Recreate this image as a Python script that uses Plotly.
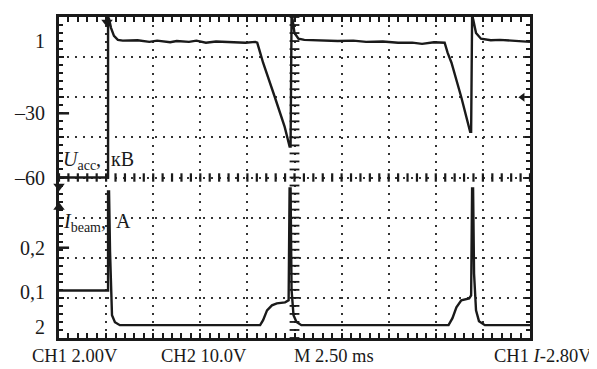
import plotly.graph_objects as go

# ---- data (time in ms, vertical position in screen divisions) ----
u_t = [0, 2.552, 2.604, 2.604, 2.656, 2.760, 2.917, 3.125, 3.385, 4.167, 4.8, 5.208, 5.9, 6.25, 6.9,
       7.292, 7.8, 8.333, 8.9, 9.375, 9.9, 10.417, 10.521, 10.677, 10.833, 11.458, 11.979, 12.240,
       12.292, 12.344, 12.396, 12.5, 12.708, 13.021, 13.6, 14.063, 14.8, 15.625, 16.3, 17.188, 18.0,
       18.75, 19.271, 19.9, 20.469, 20.625, 20.833, 21.354, 21.823, 21.875, 21.927, 21.979, 22.135,
       22.396, 22.917, 23.4, 23.958, 24.5, 25.0]
u_div = [4.0, 4.0, 4.0, 8.0, 7.95, 7.73, 7.53, 7.43, 7.41, 7.42, 7.38, 7.41, 7.37, 7.40, 7.38,
         7.41, 7.36, 7.39, 7.38, 7.38, 7.36, 7.38, 7.36, 7.11, 6.86, 6.0, 5.26, 4.77,
         4.77, 8.0, 7.95, 7.60, 7.46, 7.43, 7.42, 7.43, 7.40, 7.41, 7.38, 7.39, 7.36,
         7.36, 7.33, 7.37, 7.36, 7.11, 6.86, 6.0, 5.14, 5.14, 8.0, 7.95, 7.60,
         7.46, 7.42, 7.43, 7.41, 7.40, 7.38]

i_t = [0, 2.552, 2.604, 2.604, 2.656, 2.708, 2.813, 2.969, 3.229, 5.208, 7.813, 10.677, 10.833,
       11.042, 11.302, 11.563, 12.0, 12.188, 12.240, 12.292, 12.344, 12.448, 12.604, 12.865,
       15.625, 18.229, 20.677, 20.885, 21.094, 21.354, 21.771, 21.875, 21.927, 21.979, 22.031,
       22.135, 22.292, 22.604, 25.0]
i_div = [1.185, 1.185, 1.185, 3.65, 3.65, 2.17, 0.568, 0.395, 0.32, 0.32, 0.32, 0.32, 0.444,
         0.69, 0.815, 0.864, 0.889, 0.938, 3.73, 3.73, 1.2, 0.568, 0.40, 0.32,
         0.32, 0.32, 0.32, 0.494, 0.765, 0.938, 0.988, 1.06, 3.73, 3.73, 1.6,
         0.69, 0.42, 0.32, 0.32]

# left-edge scale labels (position in divisions)
label_pos = [7.41, 5.60, 4.0, 2.25, 1.14, 0.27]
label_text = ["1", "\u201330", "\u201360", "0,2", "0,1", "2"]

bottom_labels = ["CH1 2.00V", "CH2 10.0V", "M 2.50 ms", "CH1 <i>I</i>-2.80V"]

FONT = "Liberation Serif"
INK = "#1a1a1a"

fig = go.Figure()

# centre graticule ticks
minor_x = [k * 0.5 for k in range(51)]
minor_y = [k * 0.2 for k in range(41)]
fig.add_trace(go.Scatter(x=minor_x, y=[4.0] * len(minor_x), mode="markers",
                         marker=dict(symbol="line-ns", size=6, line=dict(width=2.2, color=INK)),
                         hoverinfo="skip"))
fig.add_trace(go.Scatter(x=[12.5] * len(minor_y), y=minor_y, mode="markers",
                         marker=dict(symbol="line-ew", size=7, line=dict(width=1.8, color=INK)),
                         hoverinfo="skip"))

# traces
fig.add_trace(go.Scatter(x=u_t, y=u_div, mode="lines", line=dict(color=INK, width=2.4),
                         hoverinfo="skip"))
fig.add_trace(go.Scatter(x=i_t, y=i_div, mode="lines", line=dict(color=INK, width=2.4),
                         hoverinfo="skip"))

# scale tick marks at -30 / -60 / 0,2
fig.add_trace(go.Scatter(x=[0.2, 0.2, 0.2], y=[label_pos[1], label_pos[2], label_pos[3]], mode="markers",
                         marker=dict(symbol="line-ew", size=9, line=dict(width=2.5, color=INK)),
                         cliponaxis=False, hoverinfo="skip"))
# channel ground arrows
fig.add_trace(go.Scatter(x=[-0.2, -0.2], y=[label_pos[0], label_pos[5]], mode="markers",
                         marker=dict(symbol="triangle-right", size=7, color=INK),
                         cliponaxis=False, hoverinfo="skip"))
# markers on left edge, trigger marker, right-edge level marker
fig.add_trace(go.Scatter(x=[0, 0], y=[3.78, 3.26], mode="markers",
                         marker=dict(symbol=["triangle-down", "triangle-up"], size=10, color=INK),
                         cliponaxis=False, hoverinfo="skip"))
fig.add_trace(go.Scatter(x=[2.55], y=[7.87], mode="markers",
                         marker=dict(symbol="triangle-down", size=10, color=INK),
                         cliponaxis=False, hoverinfo="skip"))
fig.add_trace(go.Scatter(x=[24.6], y=[6.0], mode="markers",
                         marker=dict(symbol="triangle-left", size=8, color=INK),
                         cliponaxis=False, hoverinfo="skip"))

# dummy trace for label axis
fig.add_trace(go.Scatter(x=[0], y=[0], yaxis="y2", mode="markers", marker=dict(opacity=0),
                         hoverinfo="skip"))

fig.add_annotation(x=0.12, y=4.42, xref="x", yref="y", xanchor="left", yanchor="middle",
                   text="<i>U</i><sub>acc</sub>,\u00a0\u00a0кВ", showarrow=False,
                   font=dict(family=FONT, size=20, color=INK))
fig.add_annotation(x=0.12, y=2.88, xref="x", yref="y", xanchor="left", yanchor="middle",
                   text="<i>I</i><sub>beam</sub>,\u00a0\u00a0A", showarrow=False,
                   font=dict(family=FONT, size=20, color=INK))

bx = [-0.0625, 0.2125, 0.494, 1.135]
for k, txt in enumerate(bottom_labels):
    fig.add_annotation(x=bx[k], y=-0.056, xref="paper", yref="paper",
                       xanchor="right" if k == 3 else "left", yanchor="middle",
                       text=txt, showarrow=False, font=dict(family=FONT, size=18.5, color=INK))

grid = dict(showgrid=True, gridcolor="#333", gridwidth=1.6, griddash="2px,6px",
            showline=True, linecolor=INK, linewidth=2.5, mirror="allticks",
            ticks="inside", tickcolor=INK, ticklen=5, tickwidth=1.5,
            showticklabels=False, zeroline=False, fixedrange=True)

# page has an 8px body margin, so the figure is sized to fit the 597x369 window
fig.update_layout(
    width=589, height=361,
    margin=dict(l=42, r=67, t=6, b=31),
    paper_bgcolor="white", plot_bgcolor="white",
    showlegend=False,
    xaxis=dict(range=[0, 25], dtick=2.5, tick0=0,
               minor=dict(dtick=0.5, ticks="inside", ticklen=4, tickcolor=INK, showgrid=False),
               **grid),
    yaxis=dict(range=[0, 8], dtick=1, tick0=0,
               minor=dict(dtick=0.2, ticks="inside", ticklen=4, tickcolor=INK, showgrid=False),
               **grid),
    yaxis2=dict(range=[0, 8], overlaying="y", side="left", tickmode="array",
                tickvals=label_pos, ticktext=label_text, showgrid=False, zeroline=False,
                showline=False, ticks="", ticklabelstandoff=13,
                tickfont=dict(family=FONT, size=20, color=INK), fixedrange=True),
)

fig.write_html("out.html")
